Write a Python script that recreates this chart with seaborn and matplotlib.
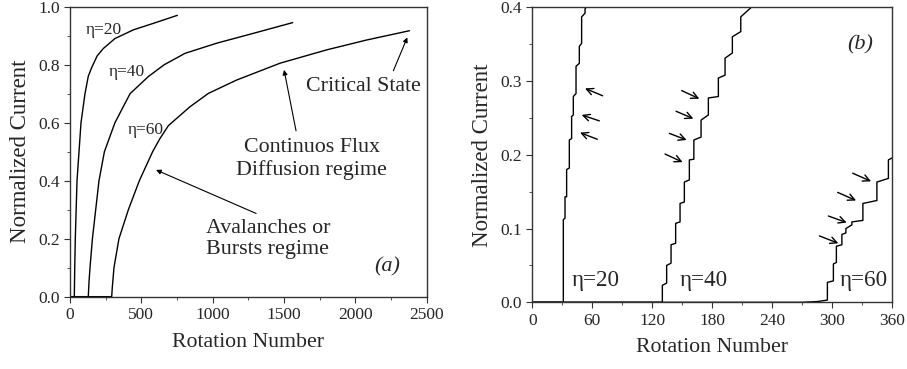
import numpy as np
import pandas as pd
import matplotlib
matplotlib.use("Agg")
import matplotlib.pyplot as plt
import seaborn as sns
from matplotlib.ticker import MultipleLocator, FormatStrFormatter

sns.set_style("ticks")
plt.rcParams['font.family'] = ['Liberation Serif', 'DejaVu Serif']

# panel (a): full charging curves
a20_x = [0, 30, 33, 37, 49, 77, 105, 128, 152, 190, 234, 315, 444, 600, 752]
a20_y = [0, 0, 0.10, 0.20, 0.40, 0.60, 0.70, 0.76, 0.79, 0.83, 0.856, 0.89, 0.92, 0.945, 0.970]
a40_x = [0, 128, 133, 140, 157, 180, 203, 241, 315, 421, 549, 661, 806, 1028, 1285, 1561]
a40_y = [0, 0, 0.05, 0.10, 0.20, 0.30, 0.40, 0.50, 0.60, 0.70, 0.759, 0.80, 0.839, 0.874, 0.908, 0.945]
a60_x = [0, 292, 296, 308, 343, 409, 486, 579, 630, 690, 841, 970, 1168, 1472, 1799, 2079, 2379]
a60_y = [0, 0, 0.03, 0.10, 0.20, 0.30, 0.40, 0.50, 0.545, 0.59, 0.655, 0.701, 0.747, 0.805, 0.851, 0.885, 0.917]

# panel (b): zoom on the first rotations, avalanche steps
b20_jx = [31, 32.7, 34.3, 37, 39.3, 41, 43.7, 47, 49.3, 52.7]
b20_lo = [0, 0.114, 0.143, 0.182, 0.222, 0.254, 0.283, 0.324, 0.351, 0.392]
b20_hi = [0.112, 0.143, 0.180, 0.220, 0.252, 0.279, 0.320, 0.347, 0.387, 0.398]
b20_end = (54, 0.40)

b40_jx = [130, 134.3, 138.7, 143.3, 147.7, 152, 157, 161.5, 168.7, 176, 186, 192.7, 200, 208.4]
b40_lo = [0, 0.026, 0.053, 0.080, 0.109, 0.136, 0.166, 0.194, 0.224, 0.254, 0.279, 0.308, 0.338, 0.367]
b40_hi = [0.023, 0.050, 0.078, 0.107, 0.134, 0.163, 0.193, 0.220, 0.247, 0.277, 0.304, 0.331, 0.360, 0.387]
b40_end = (219, 0.40)

b60_pre_x = [0, 270, 285]
b60_pre_y = [0, 0, 0.001]
b60_jx = [295, 301, 304, 309.5, 313.5, 319.5, 330.5, 344.5, 356]
b60_lo = [0.003, 0.029, 0.054, 0.078, 0.094, 0.105, 0.111, 0.138, 0.168]
b60_hi = [0.027, 0.052, 0.076, 0.092, 0.100, 0.109, 0.134, 0.163, 0.193]
b60_end = (360, 0.196)

# arrows in (b): (tail_x, tail_y, head_x, head_y)
arr20 = [(70.3, 0.280, 52.7, 0.290), (67, 0.246, 49.3, 0.254), (65, 0.221, 47.7, 0.230)]
arr40 = [(149.3, 0.287, 167, 0.276), (143.7, 0.259, 161, 0.249),
         (137, 0.229, 154.3, 0.220), (132.7, 0.201, 150.3, 0.190)]
arr60 = [(320.3, 0.175, 338.7, 0.164), (305.3, 0.149, 323.7, 0.138),
         (296, 0.117, 314.3, 0.108), (287, 0.090, 306, 0.080)]


def steps(jx, lo, hi, end, pre_x=None, pre_y=None):
    xs, ys = [], []
    if pre_x is None:
        xs.append(0); ys.append(0)
    else:
        xs += list(pre_x); ys += list(pre_y)
    for x, l, h in zip(jx, lo, hi):
        xs += [x, x]
        ys += [l, h]
    xs.append(end[0]); ys.append(end[1])
    return pd.DataFrame({"x": xs, "y": ys})


fig = plt.figure(figsize=(9.07, 3.69), dpi=100)
ax1 = fig.add_axes([0.0772, 0.196, 0.3933, 0.786])
ax2 = fig.add_axes([0.5869, 0.1808, 0.397, 0.7995])

for xs, ys in [(a20_x, a20_y), (a40_x, a40_y), (a60_x, a60_y)]:
    sns.lineplot(x=xs, y=ys, ax=ax1, color="black", lw=1.0, sort=False, estimator=None)

for df in [steps(b20_jx, b20_lo, b20_hi, b20_end),
           steps(b40_jx, b40_lo, b40_hi, b40_end),
           steps(b60_jx, b60_lo, b60_hi, b60_end, b60_pre_x, b60_pre_y)]:
    sns.lineplot(data=df, x="x", y="y", ax=ax2, color="black", lw=1.0, sort=False, estimator=None)

for ax in (ax1, ax2):
    for s in ax.spines.values():
        s.set_visible(True)
        s.set_linewidth(1.0)
        s.set_color("#333333")
    ax.tick_params(which="both", direction="out", top=False, right=False, labelsize=12.5, color="#333333")
    ax.tick_params(which="major", length=4)
    ax.tick_params(which="minor", length=2.5)
    ax.set_xlabel("Rotation Number", fontsize=15.7, labelpad=7)
    ax.set_ylabel("Normalized Current", fontsize=16.5, labelpad=5)

ax1.set_xlim(0, 2500)
ax1.set_ylim(0, 1.0)
ax1.xaxis.set_major_locator(MultipleLocator(500))
ax1.xaxis.set_minor_locator(MultipleLocator(250))
ax1.yaxis.set_major_locator(MultipleLocator(0.2))
ax1.yaxis.set_minor_locator(MultipleLocator(0.1))
ax1.yaxis.set_major_formatter(FormatStrFormatter("%.1f"))

ax2.set_xlim(0, 360)
ax2.set_ylim(0, 0.4)
ax2.xaxis.set_major_locator(MultipleLocator(60))
ax2.xaxis.set_minor_locator(MultipleLocator(30))
ax2.yaxis.set_major_locator(MultipleLocator(0.1))
ax2.yaxis.set_minor_locator(MultipleLocator(0.05))
ax2.yaxis.set_major_formatter(FormatStrFormatter("%.1f"))

# labels panel (a)
ax1.text(112, 0.92, "η=20", fontsize=12.5, va="center")
ax1.text(269, 0.776, "η=40", fontsize=12.5, va="center")
ax1.text(402, 0.575, "η=60", fontsize=12.5, va="center")
ax1.text(2224, 0.103, "(a)", fontsize=16, style="italic", ha="center", va="center")

arrow_a = dict(arrowstyle="-|>", color="black", lw=0.8, mutation_scale=7, shrinkA=0, shrinkB=0)
ax1.text(2058, 0.726, "Critical State", fontsize=15.8, ha="center", va="center")
ax1.annotate("", xy=(2364, 0.894), xytext=(2266, 0.779), arrowprops=arrow_a)
ax1.text(1694, 0.475, "Continuos Flux\nDiffusion regime", fontsize=15.8, ha="center",
         va="center", linespacing=1.2)
ax1.annotate("", xy=(1500, 0.782), xytext=(1584, 0.572), arrowprops=arrow_a)
ax1.text(1386, 0.199, "Avalanches or\nBursts regime", fontsize=15.8, ha="center",
         va="center", linespacing=1.2)
ax1.annotate("", xy=(603, 0.437), xytext=(1304, 0.287), arrowprops=arrow_a)

# labels panel (b)
ax2.text(39.3, 0.029, "η=20", fontsize=16.7, va="center")
ax2.text(147.7, 0.029, "η=40", fontsize=16.7, va="center")
ax2.text(307.7, 0.029, "η=60", fontsize=16.7, va="center")
ax2.text(328, 0.349, "(b)", fontsize=16, style="italic", ha="center", va="center")

arrow_b = dict(arrowstyle="->", color="black", lw=1.0, mutation_scale=12, shrinkA=0, shrinkB=0)
for tx, ty, hx, hy in arr20 + arr40 + arr60:
    ax2.annotate("", xy=(hx, hy), xytext=(tx, ty), arrowprops=arrow_b)

fig.savefig("out.png", dpi=100)
